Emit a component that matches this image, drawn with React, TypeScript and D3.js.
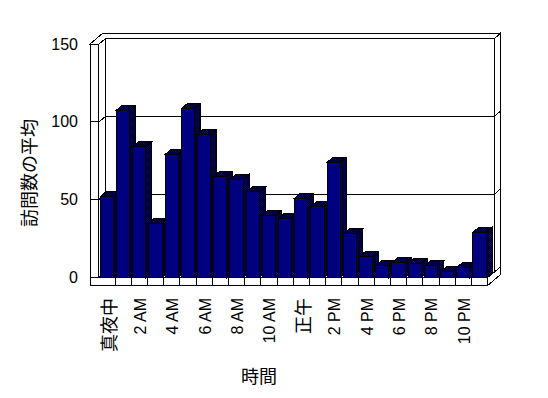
import React from "react";
import * as d3 from "d3";

const categories = [
  "真夜中", "1 AM", "2 AM", "3 AM", "4 AM", "5 AM", "6 AM", "7 AM", "8 AM", "9 AM", "10 AM", "11 AM",
  "正午", "1 PM", "2 PM", "3 PM", "4 PM", "5 PM", "6 PM", "7 PM", "8 PM", "9 PM", "10 PM", "11 PM",
];
const visits = [52, 107.5, 84, 35, 79, 108.5, 92, 65, 63, 55, 40, 38, 51, 45.5, 74, 28, 13.5, 7.5, 9.5, 9, 7.5, 3.8, 6.5, 29];
const tickLabels = ["真夜中", "2 AM", "4 AM", "6 AM", "8 AM", "10 AM", "正午", "2 PM", "4 PM", "6 PM", "8 PM", "10 PM"];
const valueTicks = [0, 50, 100, 150];
const yTitle = "訪問数の平均";
const xTitle = "時間";

const W = 548;
const H = 398;
const OUTER_L = 90; // outer face of the left wall
const X0 = 98.8;
const X1 = 487.6;
const DX = 7, DY = -5.5; // floor depth to back wall
const TX = 6, TY = -5.5; // wall thickness in depth
const BDX = 6, BDY = -5; // bar depth
const FLOOR_T = 8;
const LAT = "'Liberation Sans', Arial, sans-serif";
const CJK = "'Noto Sans CJK JP', sans-serif";

export default function App() {
  const x = d3.scaleBand<string>().domain(categories).range([X0, X1]).paddingInner(0.18).paddingOuter(0.09);
  const y = d3.scaleLinear().domain([0, 150]).range([277.5, 44]);
  const step = x.step();
  const yb = y(0);
  const yt = y(150);
  const pt = (a: [number, number][]) => a.map((p) => p.join(",")).join(" ");
  const isCJK = (s: string) => /[^\x00-\x7F]/.test(s);

  const backX0 = X0 + DX, backX1 = X1 + DX;
  const outX1 = X1 + DX + TX;

  return (
    <svg width={W} height={H} style={{ position: "absolute", left: 0, top: 0, background: "#fff" }} shapeRendering="crispEdges">
      <defs>
        <pattern id="dith" width="2" height="2" patternUnits="userSpaceOnUse">
          <rect width="2" height="2" fill="#000" />
          <rect x="0" y="0" width="1" height="1" fill="#000080" />
          <rect x="1" y="1" width="1" height="1" fill="#000080" />
        </pattern>
      </defs>
      <rect width={W} height={H} fill="#fff" />
      {/* back wall inner face */}
      <polygon points={pt([[backX0, yt + DY], [backX1, yt + DY], [backX1, yb + DY], [backX0, yb + DY]])} fill="#fff" stroke="#000" />
      {/* left wall inner sliver */}
      <polygon points={pt([[X0, yt], [backX0, yt + DY], [backX0, yb + DY], [X0, yb]])} fill="#fff" stroke="#000" />
      {/* right end face of back wall + floor */}
      <polygon
        points={pt([[X1, yb], [backX1, yb + DY], [backX1, yt + DY], [outX1, yt + DY + TY], [outX1, yb + DY + TY + FLOOR_T], [X1, yb + FLOOR_T]])}
        fill="#fff"
        stroke="#000"
      />
      {/* top surface of walls */}
      <polygon
        points={pt([[OUTER_L, yt], [OUTER_L + DX + TX, yt + DY + TY], [outX1, yt + DY + TY], [backX1, yt + DY], [backX0, yt + DY], [X0, yt]])}
        fill="#fff"
        stroke="#000"
      />
      {/* gridlines */}
      {valueTicks.map((v) => {
        const yy = y(v);
        return (
          <polyline
            key={v}
            points={pt([[OUTER_L, yy], [X0, yy], [backX0, yy + DY], [backX1, yy + DY], [outX1, yy + DY + TY]])}
            fill="none"
            stroke="#000"
          />
        );
      })}
      {/* front L face: left wall edge + floor edge */}
      <polygon
        points={pt([[OUTER_L, yt], [X0, yt], [X0, yb], [X1, yb], [X1, yb + FLOOR_T], [OUTER_L, yb + FLOOR_T]])}
        fill="#fff"
        stroke="#000"
      />
      {d3.range(1, categories.length).map((i) => {
        const xx = X0 + i * step;
        return <line key={i} x1={xx} x2={xx} y1={yb} y2={yb + FLOOR_T} stroke="#000" />;
      })}
      {valueTicks.map((v) => (
        <line key={"t" + v} x1={OUTER_L} x2={X0} y1={y(v)} y2={y(v)} stroke="#000" />
      ))}
      {/* bars */}
      {categories.map((c, i) => {
        const x0 = x(c)!;
        const x1 = x0 + x.bandwidth();
        const top = y(visits[i]);
        return (
          <g key={c} stroke="#000" strokeWidth={1}>
            <polygon points={pt([[x1, top], [x1 + BDX, top + BDY], [x1 + BDX, yb + BDY], [x1, yb]])} fill="url(#dith)" />
            <polygon points={pt([[x0, top], [x0 + BDX, top + BDY], [x1 + BDX, top + BDY], [x1, top]])} fill="url(#dith)" />
            <rect x={x0} y={top} width={x1 - x0} height={yb - top} fill="#000080" />
          </g>
        );
      })}
      {/* value tick labels */}
      {valueTicks.map((v) => (
        <text key={"l" + v} x={78} y={y(v)} textAnchor="end" dominantBaseline="central" fontFamily={LAT} fontSize={16} fill="#000">
          {v}
        </text>
      ))}
      {/* category labels */}
      {tickLabels.map((t) => {
        const cx = x(t)! + x.bandwidth() / 2 + 1;
        return (
          <text
            key={t}
            transform={`translate(${cx},298) rotate(-90)`}
            textAnchor="end"
            dominantBaseline="central"
            fontFamily={isCJK(t) ? CJK : LAT}
            fontSize={isCJK(t) ? 18 : 16}
            fill="#000"
          >
            {t}
          </text>
        );
      })}
      <text transform="translate(28,173) rotate(-90)" textAnchor="middle" dominantBaseline="central" fontFamily={CJK} fontSize={18} fill="#000">
        {yTitle}
      </text>
      <text x={259} y={375} textAnchor="middle" dominantBaseline="central" fontFamily={CJK} fontSize={18} fill="#000">
        {xTitle}
      </text>
    </svg>
  );
}
